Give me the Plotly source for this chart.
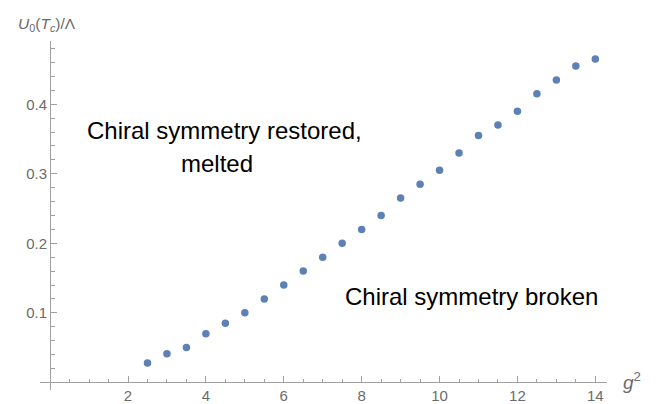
import plotly.graph_objects as go

# Coupling g^2 and the critical-temperature scale U0(Tc)/Lambda
g2 = [2.5, 3.0, 3.5, 4.0, 4.5, 5.0, 5.5, 6.0, 6.5, 7.0, 7.5, 8.0,
      8.5, 9.0, 9.5, 10.0, 10.5, 11.0, 11.5, 12.0, 12.5, 13.0, 13.5, 14.0]
u0_tc = [0.028, 0.041, 0.050, 0.070, 0.085, 0.100, 0.120, 0.140, 0.160, 0.180,
         0.200, 0.220, 0.240, 0.265, 0.285, 0.305, 0.330, 0.355, 0.370, 0.390,
         0.415, 0.435, 0.455, 0.465]

x_ticks = [2, 4, 6, 8, 10, 12, 14]
x_tick_text = ["2", "4", "6", "8", "10", "12", "14"]
y_ticks = [0.1, 0.2, 0.3, 0.4]
y_tick_text = ["0.1", "0.2", "0.3", "0.4"]
x_minor = [0.5 * i for i in range(1, 29)]
y_minor = [0.02 * i for i in range(1, 25)]

x_range = [-0.26, 14.3]
y_range = [-0.011, 0.491]

axis_grey = "#a0a0a0"
label_grey = "#6b6b6b"
font_family = "Liberation Sans, Arial, Helvetica, sans-serif"

fig = go.Figure()
fig.add_trace(go.Scatter(
    x=g2, y=u0_tc, mode="markers",
    marker=dict(color="#5E81B5", size=7.5, line=dict(width=0)),
    hoverinfo="skip", showlegend=False,
))

# axes cross at the origin
x_pos = (0 - y_range[0]) / (y_range[1] - y_range[0])
y_pos = (0 - x_range[0]) / (x_range[1] - x_range[0])

region_font = dict(size=24, color="black")

fig.update_layout(
    width=668, height=404,
    margin=dict(l=40, r=61, t=41, b=14),
    paper_bgcolor="white", plot_bgcolor="white",
    font=dict(family=font_family, color=label_grey, size=13),
    xaxis=dict(
        range=x_range, anchor="free", position=x_pos, side="bottom",
        showgrid=False, zeroline=False, showline=True,
        linecolor=axis_grey, linewidth=1,
        tickmode="array", tickvals=x_ticks, ticktext=x_tick_text,
        ticks="inside", ticklen=6, tickcolor=axis_grey, tickwidth=1,
        tickfont=dict(size=15, color=label_grey),
        minor=dict(tickmode="array", tickvals=x_minor, ticks="inside",
                   ticklen=3.5, tickcolor=axis_grey, tickwidth=1, showgrid=False),
        automargin=False, fixedrange=True,
    ),
    yaxis=dict(
        range=y_range, anchor="free", position=y_pos, side="left",
        showgrid=False, zeroline=False, showline=True,
        linecolor=axis_grey, linewidth=1,
        tickmode="array", tickvals=y_ticks, ticktext=y_tick_text,
        ticks="inside", ticklen=6, tickcolor=axis_grey, tickwidth=1,
        tickfont=dict(size=15, color=label_grey),
        minor=dict(tickmode="array", tickvals=y_minor, ticks="inside",
                   ticklen=3.5, tickcolor=axis_grey, tickwidth=1, showgrid=False),
        automargin=False, fixedrange=True,
    ),
    annotations=[
        dict(text="<i>U</i><sub>0</sub>(<i>T</i><sub><i>c</i></sub>)/Λ",
             xref="paper", yref="paper", x=-0.042, y=1.015,
             xanchor="left", yanchor="bottom", showarrow=False,
             font=dict(size=15.5, color=label_grey)),
        dict(text="<i>g</i><sup>2</sup>",
             xref="paper", yref="y", x=1.025, y=0.002,
             xanchor="left", yanchor="middle", showarrow=False,
             font=dict(size=19, color=label_grey)),
        dict(text="Chiral symmetry restored,",
             xref="x", yref="y", x=4.47, y=0.362,
             xanchor="center", yanchor="middle", showarrow=False,
             font=region_font),
        dict(text="melted",
             xref="x", yref="y", x=4.29, y=0.315,
             xanchor="center", yanchor="middle", showarrow=False,
             font=region_font),
        dict(text="Chiral symmetry broken",
             xref="x", yref="y", x=10.81, y=0.124,
             xanchor="center", yanchor="middle", showarrow=False,
             font=region_font),
    ],
)

fig.write_html("out.html")
